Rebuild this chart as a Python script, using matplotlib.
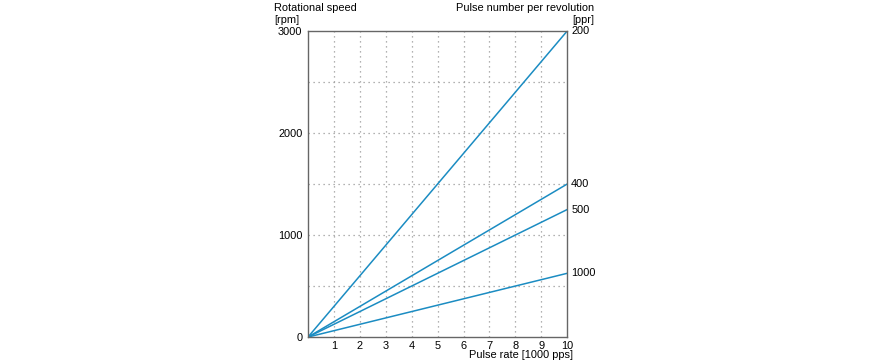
import matplotlib.pyplot as plt

# Dados
pulse_rate = [0, 10]  # [1000 pps]
ppr = ['200', '400', '500', '1000']
speed_end = [3000, 1500, 1250, 625]  # rpm a 10 kpps
x_ticks = [1, 2, 3, 4, 5, 6, 7, 8, 9, 10]
y_ticks = [0, 1000, 2000, 3000]

plt.rcParams['font.family'] = ['Liberation Sans', 'DejaVu Sans']
fs = 7.9
cor = '#1b8cc2'

fig = plt.figure(figsize=(8.7, 3.64), dpi=100)
ax = fig.add_axes([0.354, 0.074, 0.298, 0.841])

for p, s in zip(ppr, speed_end):
    ax.plot(pulse_rate, [0, s], color=cor, lw=1.1)
    ax.text(10.15, s, p, fontsize=fs, va='center', ha='left')

ax.set_xlim(0, 10)
ax.set_ylim(0, 3000)

# grade pontilhada
for xv in range(1, 10):
    ax.axvline(xv, color='#999999', lw=0.9, ls=(0, (1, 3)), zorder=0)
for yv in range(500, 3000, 500):
    ax.axhline(yv, color='#999999', lw=0.9, ls=(0, (1, 3)), zorder=0)

ax.set_xticks(x_ticks)
ax.set_yticks(y_ticks)
ax.tick_params(length=0, labelsize=fs)
ax.tick_params(axis='x', pad=3)
ax.tick_params(axis='y', pad=4)
for sp in ax.spines.values():
    sp.set_color('#666666')
    sp.set_linewidth(1.0)

ax.text(-0.132, 1.037, '[rpm]', transform=ax.transAxes, fontsize=fs, ha='left', va='center')
ax.text(-0.132, 1.074, 'Rotational speed', transform=ax.transAxes, fontsize=fs, ha='left', va='center')
ax.text(1.104, 1.037, '[ppr]', transform=ax.transAxes, fontsize=fs, ha='right', va='center')
ax.text(1.104, 1.074, 'Pulse number per revolution', transform=ax.transAxes, fontsize=fs, ha='right', va='center')
ax.text(1.023, -0.059, 'Pulse rate [1000 pps]', transform=ax.transAxes, fontsize=fs, ha='right', va='center')

fig.savefig('out.png', dpi=100)
